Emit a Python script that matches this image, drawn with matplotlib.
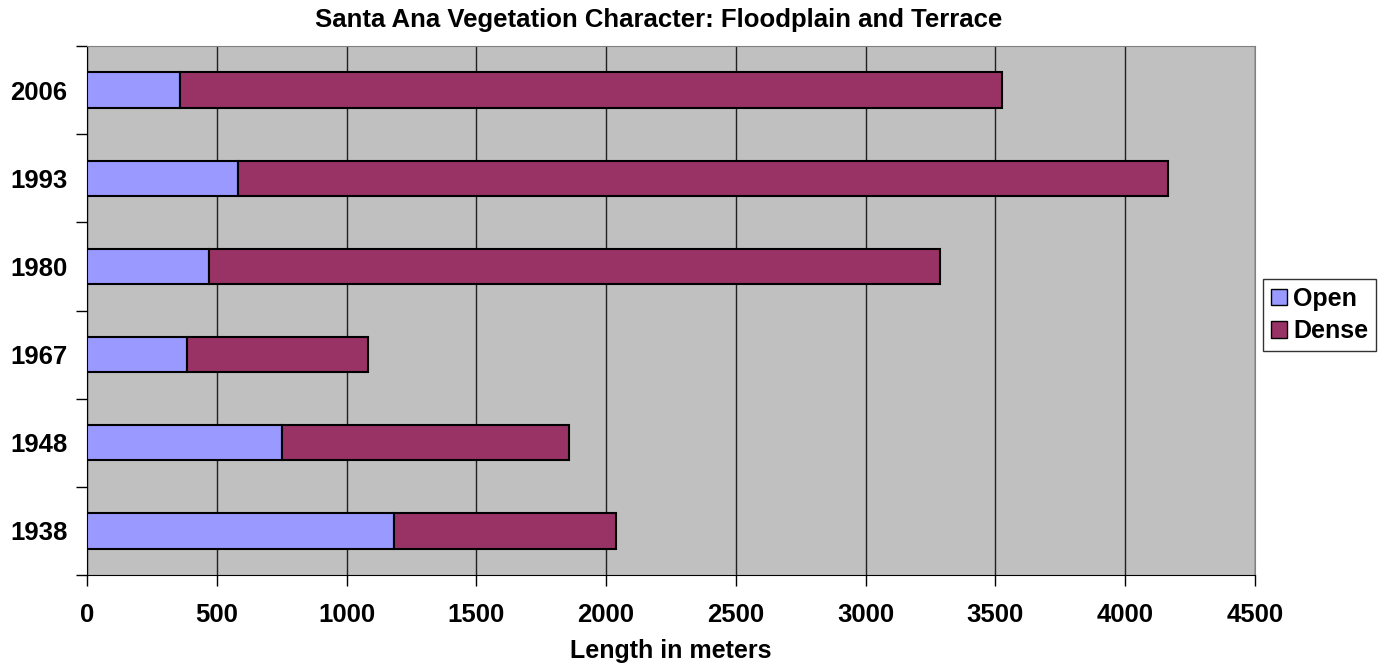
import matplotlib
matplotlib.use("Agg")
import matplotlib.pyplot as plt
import numpy as np
from matplotlib.patches import Patch

plt.rcParams['font.family'] = ['Liberation Sans', 'DejaVu Sans']

years = ['1938', '1948', '1967', '1980', '1993', '2006']
open_vals = [1183, 751, 385, 470, 582, 358]
dense_vals = [855, 1106, 697, 2816, 3582, 3167]
xticks = [0, 500, 1000, 1500, 2000, 2500, 3000, 3500, 4000, 4500]

fig = plt.figure(figsize=(13.87, 6.66), dpi=100)
ax = fig.add_axes([87/1387, 1-575/666, (1255-87)/1387, (575-46)/666])
ax.set_facecolor('#C0C0C0')

y = np.arange(len(years))
ax.barh(y, open_vals, height=0.4, color='#9999FF', edgecolor='black', linewidth=1.5, zorder=3)
ax.barh(y, dense_vals, left=open_vals, height=0.4, color='#993366', edgecolor='black', linewidth=1.5, zorder=3)

ax.set_xlim(0, 4500)
ax.set_ylim(-0.5, len(years) - 0.5)
ax.set_xticks(xticks)
ax.set_xticklabels([str(v) for v in xticks], fontsize=18.5, fontweight='bold')
ax.set_yticks(y)
ax.set_yticklabels(years, fontsize=18.5, fontweight='bold')
ax.set_yticks(np.arange(-0.5, len(years)), minor=True)
ax.tick_params(axis='y', which='major', length=0, pad=14)
ax.tick_params(axis='y', which='minor', length=8, width=1, direction='out')
ax.tick_params(axis='x', which='major', length=8, width=1, direction='out', pad=12)
ax.xaxis.grid(True, color='#202020', linewidth=1, zorder=0)
ax.set_axisbelow(True)

for s in ['top', 'right']:
    ax.spines[s].set_color('#808080')
for s in ['left', 'bottom']:
    ax.spines[s].set_color('black')

ax.set_xlabel('Length in meters', fontsize=18, fontweight='bold', labelpad=9)
fig.text(659/1387, 1-20/666, 'Santa Ana Vegetation Character: Floodplain and Terrace',
         ha='center', va='center', fontsize=18.5, fontweight='bold')

handles = [Patch(facecolor='#9999FF', edgecolor='black'), Patch(facecolor='#993366', edgecolor='black')]
leg = fig.legend(handles, ['Open', 'Dense'], loc='center left', bbox_to_anchor=(1263/1387, 1-315/666),
                 prop={'weight': 'bold', 'size': 18}, frameon=True, fancybox=False,
                 edgecolor='black', handlelength=0.65, handleheight=0.65, handletextpad=0.25,
                 borderpad=0.3, labelspacing=0.35, borderaxespad=0)
leg.get_frame().set_linewidth(1)

fig.savefig('out.png', dpi=100)
